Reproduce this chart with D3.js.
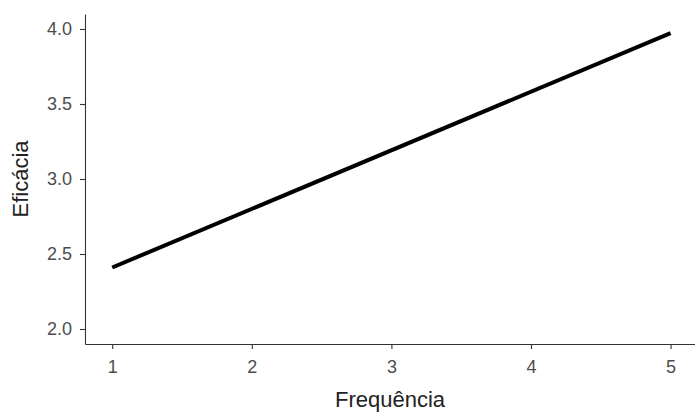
<!DOCTYPE html>
<html>
<head>
<meta charset="utf-8">
<script src="https://cdn.jsdelivr.net/npm/d3@7"></script>
<style>
  body { margin: 0; background: #fff; }
  text { font-family: "Liberation Sans", Arial, sans-serif; }
</style>
</head>
<body>
<svg id="chart" width="695" height="412"></svg>
<script>
var frequencia = [1, 5],
    eficacia = [2.41, 3.973],
    xTicks = [1, 2, 3, 4, 5],
    yTicks = [2.0, 2.5, 3.0, 3.5, 4.0];

var svg = d3.select('#chart'),
    m = { left: 85, right: 695, top: 14, bottom: 344 };

var x = d3.scaleLinear().domain([0.805, 5.175]).range([m.left, m.right]);
var y = d3.scaleLinear().domain([1.9, 4.1]).range([m.bottom, m.top]);

// axes
var xAxis = svg.append('g')
    .attr('transform', 'translate(0,' + m.bottom + ')')
    .call(d3.axisBottom(x).tickValues(xTicks).tickFormat(d3.format('d')).tickSize(5).tickPadding(11).tickSizeOuter(0));

var yAxis = svg.append('g')
    .attr('transform', 'translate(' + m.left + ',0)')
    .call(d3.axisLeft(y).tickValues(yTicks).tickFormat(d3.format('.1f')).tickSize(5).tickPadding(8).tickSizeOuter(0));

[xAxis, yAxis].forEach(function(g) {
  g.attr('font-size', null).attr('font-family', null);
  g.select('.domain').attr('stroke', '#333').attr('stroke-width', 1.1);
  g.selectAll('.tick line').attr('stroke', '#333').attr('stroke-width', 1.1);
  g.selectAll('.tick text').attr('fill', '#4d4d4d').style('font-size', '18px');
});

// line
var line = d3.line()
    .x(function(d, i) { return x(frequencia[i]); })
    .y(function(d) { return y(d); });

svg.append('path')
    .datum(eficacia)
    .attr('d', line)
    .attr('fill', 'none')
    .attr('stroke', '#000')
    .attr('stroke-width', 4);

// titles
svg.append('text')
    .attr('x', (m.left + m.right) / 2)
    .attr('y', 407)
    .attr('text-anchor', 'middle')
    .attr('fill', '#222')
    .style('font-size', '22px')
    .text('Frequência');

svg.append('text')
    .attr('transform', 'translate(28,' + ((m.top + m.bottom) / 2) + ') rotate(-90)')
    .attr('text-anchor', 'middle')
    .attr('fill', '#222')
    .style('font-size', '22px')
    .text('Eficácia');
</script>
</body>
</html>
